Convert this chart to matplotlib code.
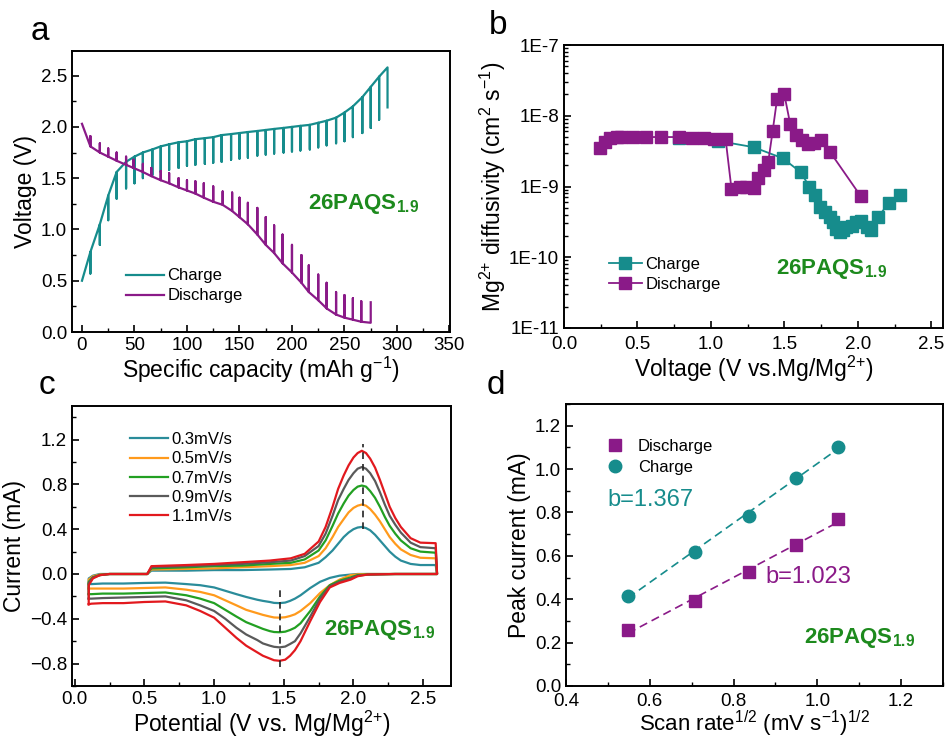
import numpy as np
import matplotlib
matplotlib.use("Agg")
import matplotlib.pyplot as plt
from matplotlib.ticker import MultipleLocator, LogLocator, FuncFormatter, NullFormatter

plt.rcParams['font.family'] = ['Liberation Sans', 'DejaVu Sans']
plt.rcParams['mathtext.fontset'] = 'custom'
plt.rcParams['mathtext.rm'] = 'Liberation Sans'
plt.rcParams['mathtext.it'] = 'Liberation Sans:italic'
plt.rcParams['mathtext.bf'] = 'Liberation Sans:bold'
plt.rcParams['axes.linewidth'] = 1.4

TEAL = '#168c8c'
PURPLE = '#8a1a88'
GREEN = '#1d8a1d'

# ---------------- Panel a: GITT ----------------
chg_start = (0.0, 0.50)
chg_cap = [8, 17, 25, 33, 42, 50, 58, 67, 75, 83, 92, 100, 108, 117, 125, 133, 142, 150,
           158, 167, 175, 183, 192, 200, 208, 217, 225, 233, 242, 250, 258, 267, 275, 283, 291]
chg_top = [0.78, 1.05, 1.33, 1.56, 1.66, 1.71, 1.75, 1.78, 1.81, 1.83, 1.85, 1.86, 1.88, 1.89, 1.90,
           1.92, 1.93, 1.94, 1.95, 1.96, 1.97, 1.98, 1.99, 2.00, 2.01, 2.02, 2.04, 2.06, 2.09, 2.14,
           2.20, 2.29, 2.39, 2.49, 2.58]
chg_rel = [0.57, 0.85, 1.09, 1.30, 1.40, 1.45, 1.50, 1.53, 1.56, 1.58, 1.60, 1.62, 1.63, 1.64, 1.65,
           1.66, 1.68, 1.69, 1.70, 1.72, 1.73, 1.74, 1.75, 1.76, 1.77, 1.78, 1.80, 1.82, 1.84, 1.86,
           1.90, 1.94, 1.99, 2.07, 2.19]

dis_start = (0.0, 2.03)
dis_cap = [8, 17, 25, 33, 42, 49, 58, 66, 75, 83, 92, 100, 108, 116, 125, 134, 143, 150, 158,
           167, 175, 183, 191, 200, 209, 216, 225, 233, 242, 250, 258, 266, 275]
dis_low = [1.81, 1.75, 1.71, 1.67, 1.63, 1.60, 1.56, 1.52, 1.48, 1.45, 1.41, 1.38, 1.35, 1.31, 1.27,
           1.24, 1.18, 1.12, 1.05, 0.95, 0.85, 0.77, 0.67, 0.58, 0.48, 0.39, 0.31, 0.23, 0.17, 0.14,
           0.12, 0.10, 0.09]
dis_rel = [1.91, 1.84, 1.79, 1.75, 1.71, 1.68, 1.64, 1.60, 1.57, 1.55, 1.50, 1.48, 1.47, 1.45, 1.42,
           1.37, 1.36, 1.31, 1.26, 1.21, 1.12, 1.04, 0.95, 0.85, 0.75, 0.65, 0.56, 0.48, 0.39, 0.36,
           0.33, 0.30, 0.29]

# ---------------- Panel b: diffusivity ----------------
b_chg_v = [0.78, 1.05, 1.29, 1.49, 1.61, 1.67, 1.71, 1.74, 1.78, 1.81, 1.83, 1.85, 1.88, 1.90,
           1.92, 1.96, 1.99, 2.02, 2.06, 2.09, 2.14, 2.21, 2.29]
b_chg_d = [4.9e-9, 4.4e-9, 3.6e-9, 2.5e-9, 1.6e-9, 1.0e-9, 7.5e-10, 5.2e-10, 4.4e-10, 3.7e-10,
           3.1e-10, 2.5e-10, 2.3e-10, 2.4e-10, 2.7e-10, 2.8e-10, 3.1e-10, 3.3e-10, 2.7e-10, 2.4e-10,
           3.7e-10, 5.9e-10, 7.5e-10]
b_dis_v = [0.245, 0.28, 0.31, 0.36, 0.39, 0.47, 0.56, 0.66, 0.78, 0.87, 0.95, 1.02, 1.10, 1.14,
           1.20, 1.24, 1.29, 1.32, 1.36, 1.39, 1.42, 1.45, 1.50, 1.54, 1.58, 1.62, 1.66, 1.70, 1.75,
           1.81, 2.02]
b_dis_d = [3.5e-9, 4.3e-9, 4.8e-9, 5.0e-9, 5.0e-9, 5.0e-9, 5.0e-9, 5.0e-9, 5.0e-9, 4.8e-9, 4.8e-9,
           4.7e-9, 4.7e-9, 9.3e-10, 1.0e-9, 1.0e-9, 9.5e-10, 1.3e-9, 1.7e-9, 2.2e-9, 6.0e-9, 1.7e-8,
           2.0e-8, 7.6e-9, 5.4e-9, 4.5e-9, 4.0e-9, 4.1e-9, 4.5e-9, 3.1e-9, 7.3e-10]

# ---------------- Panel c: CV ----------------
cv_labels = ['0.3mV/s', '0.5mV/s', '0.7mV/s', '0.9mV/s', '1.1mV/s']
cv_colors = ['#2a8c9a', '#ff9a1c', '#22a022', '#5a5a5a', '#e2191e']
cv_fwd_x = [0.10, 0.10, 0.13, 0.18, 0.25, 0.52, 0.55, 0.80, 1.00, 1.20, 1.40, 1.55, 1.65,
            1.75, 1.80, 1.85, 1.89, 1.93, 1.965, 2.00, 2.03, 2.06, 2.09, 2.12, 2.155, 2.19, 2.225,
            2.26, 2.30, 2.34, 2.41, 2.48, 2.59, 2.60]
cv_fwd_i = [
    [-0.09, -0.04, -0.015, 0.0, 0.0, 0.0, 0.03, 0.03, 0.035, 0.035, 0.04, 0.045, 0.06,
     0.10, 0.15, 0.21, 0.27, 0.33, 0.37, 0.40, 0.415, 0.42, 0.41, 0.39, 0.35, 0.30, 0.25,
     0.20, 0.155, 0.12, 0.09, 0.08, 0.08, 0.0],
    [-0.13, -0.05, -0.02, -0.005, 0.0, 0.0, 0.04, 0.045, 0.05, 0.06, 0.07, 0.08, 0.10,
     0.16, 0.23, 0.33, 0.42, 0.49, 0.55, 0.59, 0.61, 0.62, 0.61, 0.58, 0.53, 0.47, 0.40,
     0.33, 0.27, 0.22, 0.17, 0.145, 0.14, 0.0],
    [-0.18, -0.07, -0.03, -0.01, 0.0, 0.0, 0.05, 0.06, 0.07, 0.075, 0.09, 0.10, 0.13,
     0.21, 0.30, 0.43, 0.54, 0.63, 0.70, 0.75, 0.78, 0.79, 0.78, 0.74, 0.68, 0.60, 0.51,
     0.43, 0.36, 0.30, 0.23, 0.20, 0.19, 0.0],
    [-0.22, -0.08, -0.03, -0.01, 0.0, 0.0, 0.06, 0.07, 0.08, 0.09, 0.105, 0.12, 0.16,
     0.25, 0.36, 0.52, 0.66, 0.76, 0.84, 0.90, 0.94, 0.955, 0.94, 0.90, 0.83, 0.73, 0.62,
     0.52, 0.44, 0.37, 0.28, 0.24, 0.23, 0.0],
    [-0.27, -0.10, -0.04, -0.01, 0.0, 0.0, 0.07, 0.08, 0.09, 0.105, 0.12, 0.14, 0.18,
     0.29, 0.42, 0.60, 0.76, 0.88, 0.97, 1.04, 1.08, 1.10, 1.08, 1.03, 0.95, 0.84, 0.72,
     0.60, 0.50, 0.42, 0.32, 0.28, 0.275, 0.0],
]
cv_rev_x = [2.58, 2.50, 2.30, 2.10, 2.03, 1.98, 1.90, 1.83, 1.76, 1.69, 1.62, 1.58, 1.545, 1.51,
            1.47, 1.43, 1.40, 1.35, 1.31, 1.23, 1.16, 1.08, 1.00, 0.90, 0.80, 0.65, 0.50, 0.35,
            0.20, 0.12, 0.10]
cv_rev_i = [
    [0.0, 0.0, 0.0, 0.0, 0.0, -0.005, -0.015, -0.035, -0.07, -0.125, -0.19, -0.22, -0.24, -0.255,
     -0.26, -0.258, -0.25, -0.24, -0.23, -0.205, -0.18, -0.15, -0.12, -0.10, -0.09, -0.077, -0.08,
     -0.085, -0.085, -0.09, -0.09],
    [0.0, 0.0, 0.0, 0.0, -0.003, -0.01, -0.05, -0.10, -0.17, -0.26, -0.33, -0.36, -0.375, -0.386,
     -0.39, -0.388, -0.38, -0.365, -0.35, -0.32, -0.28, -0.235, -0.19, -0.16, -0.14, -0.12, -0.125,
     -0.13, -0.13, -0.13, -0.13],
    [0.0, 0.0, 0.0, -0.005, -0.01, -0.03, -0.06, -0.10, -0.20, -0.33, -0.44, -0.48, -0.50, -0.515,
     -0.52, -0.518, -0.51, -0.49, -0.47, -0.43, -0.38, -0.32, -0.26, -0.22, -0.19, -0.165, -0.17,
     -0.175, -0.175, -0.18, -0.18],
    [0.0, 0.0, 0.0, -0.005, -0.015, -0.04, -0.07, -0.11, -0.22, -0.38, -0.53, -0.60, -0.625, -0.648,
     -0.655, -0.65, -0.64, -0.62, -0.59, -0.54, -0.48, -0.40, -0.33, -0.28, -0.235, -0.20, -0.205,
     -0.21, -0.215, -0.22, -0.22],
    [0.0, 0.0, 0.0, -0.005, -0.02, -0.05, -0.08, -0.12, -0.25, -0.42, -0.60, -0.68, -0.73, -0.765,
     -0.775, -0.77, -0.755, -0.73, -0.70, -0.64, -0.57, -0.48, -0.39, -0.33, -0.28, -0.245, -0.25,
     -0.26, -0.26, -0.265, -0.27],
]
cv_ox_peak_v = 2.065
cv_red_peak_v = 1.47

# ---------------- Panel d: peak current ----------------
d_rate = [0.548, 0.707, 0.837, 0.949, 1.049]
d_dis = [0.26, 0.39, 0.525, 0.65, 0.77]
d_chg = [0.415, 0.62, 0.785, 0.96, 1.10]

# ---------------- Figure ----------------
W, H = 946, 740
fig = plt.figure(figsize=(W / 100, H / 100), dpi=100)


def add_ax(l, r, t, b):
    return fig.add_axes([l / W, 1 - b / H, (r - l) / W, (b - t) / H])


def style(ax):
    ax.tick_params(which='both', direction='in', labelsize=13.5, top=False, right=False)
    ax.tick_params(which='major', length=5, width=1.2)
    ax.tick_params(which='minor', length=3, width=1.0)


SAMPLE = r'$\mathbf{26PAQS_{1.9}}$'
MG = r'Mg$^{2{+}}$'
LBL = 16.5

# Panel a
axa = add_ax(72, 450, 51, 332)
style(axa)
xs, ys = [chg_start[0]], [chg_start[1]]
for c, t, r in zip(chg_cap, chg_top, chg_rel):
    xs += [c, c, c]
    ys += [t, r, t]
xs, ys = xs[:-1], ys[:-1]
axa.plot(xs, ys, color=TEAL, lw=1.6, label='Charge')
xs, ys = [dis_start[0]], [dis_start[1]]
for c, lo, r in zip(dis_cap, dis_low, dis_rel):
    xs += [c, c, c]
    ys += [lo, r, lo]
xs, ys = xs[:-1], ys[:-1]
axa.plot(xs, ys, color=PURPLE, lw=1.6, label='Discharge')
axa.set_xlim(-9.5, 350.5)
axa.set_ylim(0, 2.74)
axa.xaxis.set_major_locator(MultipleLocator(50))
axa.xaxis.set_minor_locator(MultipleLocator(25))
axa.yaxis.set_major_locator(MultipleLocator(0.5))
axa.yaxis.set_minor_locator(MultipleLocator(0.25))
axa.set_xlabel(r'Specific capacity (mAh g$^{-1}$)', fontsize=LBL, labelpad=1)
axa.set_ylabel('Voltage (V)', fontsize=LBL, labelpad=3)
axa.legend(loc='upper left', bbox_to_anchor=(0.125, 0.25), frameon=False, fontsize=12,
           handlelength=2.3, handletextpad=0.2, labelspacing=0.3, borderaxespad=0)
axa.text(0.625, 0.455, SAMPLE, transform=axa.transAxes, color=GREEN, fontsize=16,
         ha='left', va='center')

# Panel b
axb = add_ax(564, 943, 45, 328)
style(axb)
axb.tick_params(axis='x', which='major', pad=6)
axb.set_yscale('log')
axb.plot(b_chg_v, b_chg_d, color=TEAL, marker='s', ms=8.5, lw=1.3, label='Charge')
axb.plot(b_dis_v, b_dis_d, color=PURPLE, marker='s', ms=8.5, lw=1.3, label='Discharge')
axb.set_xlim(0, 2.58)
axb.set_ylim(1e-11, 1e-7)
axb.xaxis.set_major_locator(MultipleLocator(0.5))
axb.xaxis.set_minor_locator(MultipleLocator(0.25))
axb.yaxis.set_major_locator(LogLocator(base=10, numticks=10))
axb.yaxis.set_minor_locator(LogLocator(base=10, subs=np.arange(2, 10), numticks=20))
axb.yaxis.set_minor_formatter(NullFormatter())
axb.yaxis.set_major_formatter(FuncFormatter(lambda v, p: '1E%d' % int(round(np.log10(v)))))
axb.set_xlabel(r'Voltage (V vs.Mg/Mg$^{2{+}}$)', fontsize=LBL, labelpad=0)
axb.set_ylabel(MG + r' diffusivity (cm$^{2}$ s$^{-1}$)', fontsize=LBL, labelpad=1)
axb.legend(loc='upper left', bbox_to_anchor=(0.1, 0.275), frameon=False, fontsize=12,
           handlelength=2.0, handletextpad=0.2, labelspacing=0.3, borderaxespad=0)
axb.text(0.56, 0.21, SAMPLE, transform=axb.transAxes, color=GREEN, fontsize=16,
         ha='left', va='center')

# Panel c
axc = add_ax(72, 451, 406, 686)
style(axc)
for lab, col, fi, ri in zip(cv_labels, cv_colors, cv_fwd_i, cv_rev_i):
    axc.plot(list(cv_fwd_x) + list(cv_rev_x), list(fi) + list(ri), color=col, lw=1.6, label=lab)
axc.plot([cv_ox_peak_v, cv_ox_peak_v], [0.40, 1.16], color='#222222', lw=1.2, ls=(0, (4, 3)))
axc.plot([cv_red_peak_v, cv_red_peak_v], [-0.83, -0.11], color='#222222', lw=1.2, ls=(0, (4, 3)))
axc.set_xlim(-0.02, 2.7)
axc.set_ylim(-1.0, 1.5)
axc.xaxis.set_major_locator(MultipleLocator(0.5))
axc.xaxis.set_minor_locator(MultipleLocator(0.25))
axc.yaxis.set_minor_locator(MultipleLocator(0.2))
axc.set_yticks([-0.8, -0.4, 0.0, 0.4, 0.8, 1.2])
axc.set_xlabel(r'Potential (V vs. Mg/Mg$^{2{+}}$)', fontsize=LBL, labelpad=1)
axc.set_ylabel('Current (mA)', fontsize=LBL, labelpad=3)
axc.legend(loc='upper left', bbox_to_anchor=(0.135, 0.93), frameon=False, fontsize=12,
           handlelength=2.3, handletextpad=0.2, labelspacing=0.25, borderaxespad=0)
axc.text(0.665, 0.2, SAMPLE, transform=axc.transAxes, color=GREEN, fontsize=16,
         ha='left', va='center')

# Panel d
axd = add_ax(566, 943, 404, 686)
style(axd)
axd.tick_params(axis='x', which='major', pad=5)
xr = np.array(d_rate)
for yv, col in ((d_chg, TEAL), (d_dis, PURPLE)):
    k, b0 = np.polyfit(xr, np.array(yv), 1)
    axd.plot(xr[[0, -1]], k * xr[[0, -1]] + b0, color=col, lw=1.2, ls=(0, (5, 3)))
axd.plot(d_rate, d_dis, ls='none', marker='s', ms=8, color=PURPLE, label='Discharge')
axd.plot(d_rate, d_chg, ls='none', marker='o', ms=9, color=TEAL, label='Charge')
axd.set_xlim(0.4, 1.3)
axd.set_ylim(0, 1.3)
axd.xaxis.set_minor_locator(MultipleLocator(0.1))
axd.yaxis.set_minor_locator(MultipleLocator(0.1))
axd.set_xticks([0.4, 0.6, 0.8, 1.0, 1.2])
axd.set_yticks([0.0, 0.2, 0.4, 0.6, 0.8, 1.0, 1.2])
axd.set_xlabel(r'Scan rate$^{1/2}$ (mV s$^{-1}$)$^{1/2}$', fontsize=16, labelpad=-1)
axd.set_ylabel('Peak current (mA)', fontsize=LBL, labelpad=3)
axd.legend(loc='upper left', bbox_to_anchor=(0.08, 0.9), frameon=False, fontsize=12,
           handlelength=1.5, handletextpad=0.6, labelspacing=0.35, borderaxespad=0)
axd.text(0.11, 0.66, 'b=1.367', transform=axd.transAxes, color=TEAL, fontsize=17,
         ha='left', va='center')
axd.text(0.53, 0.385, 'b=1.023', transform=axd.transAxes, color=PURPLE, fontsize=17,
         ha='left', va='center')
axd.text(0.63, 0.17, SAMPLE, transform=axd.transAxes, color=GREEN, fontsize=16,
         ha='left', va='center')

# panel letters
for lab, x, y in (('a', 40, 32), ('b', 498, 25), ('c', 47, 385), ('d', 496, 385)):
    fig.text(x / W, 1 - y / H, lab, fontsize=24, ha='center', va='center')

fig.savefig('out.png', dpi=100)
